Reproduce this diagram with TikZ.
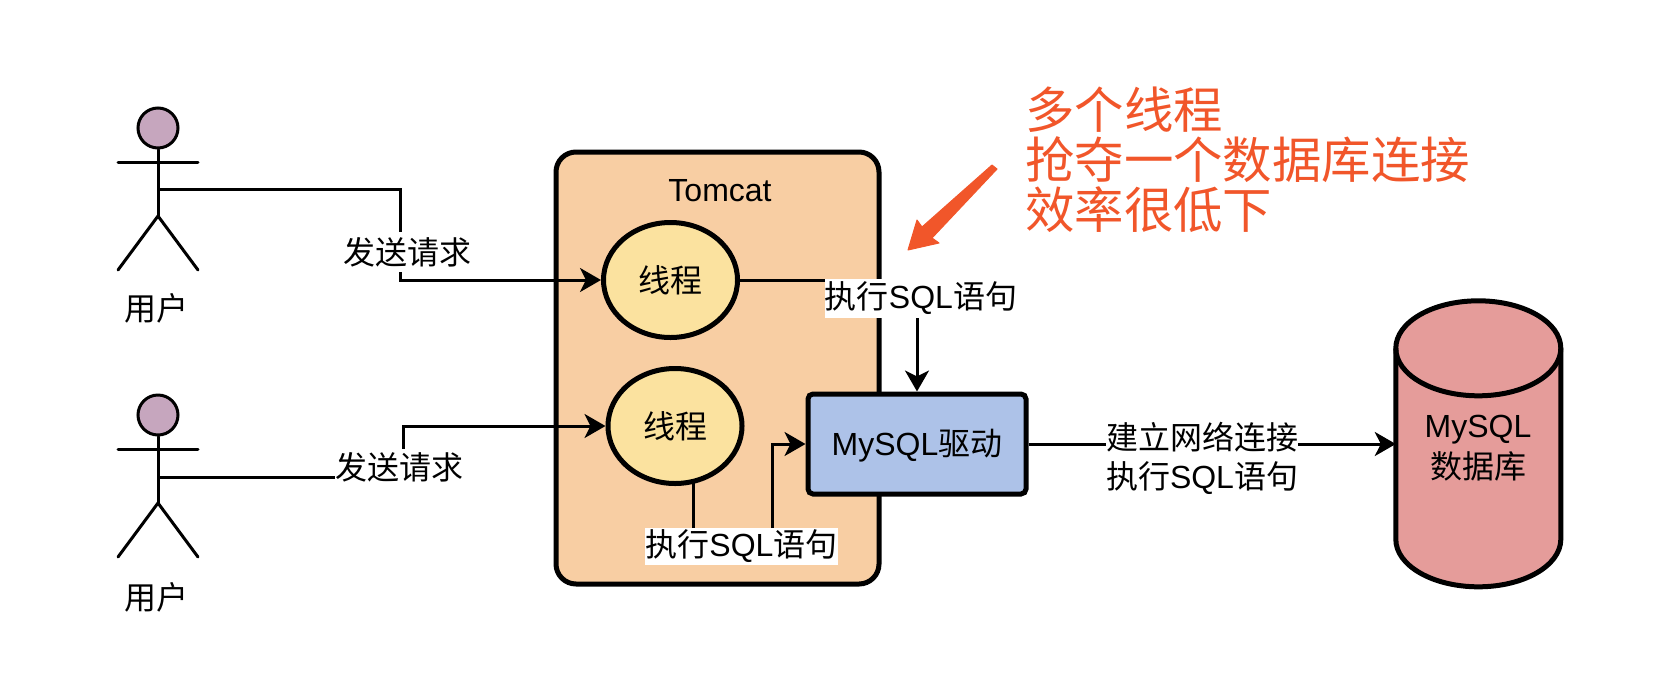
\documentclass[tikz,border=0pt]{standalone}
\usepackage{fontspec}
\setmainfont{Liberation Sans}
\newfontfamily\cjk{Noto Sans CJK SC}
\usetikzlibrary{arrows.meta,shapes.geometric}
\definecolor{headc}{HTML}{C6A6BE}
\definecolor{peach}{HTML}{F8CEA3}
\definecolor{threadc}{HTML}{FBE29F}
\definecolor{drvc}{HTML}{ADC2E8}
\definecolor{dbc}{HTML}{E59C9A}
\definecolor{redc}{HTML}{F1562A}
\tikzset{
  txt/.style={inner sep=0pt,align=center,font=\fontsize{32}{38}\selectfont},
  lab/.style={txt,fill=white,minimum height=37pt},
  box/.style={draw=black,line width=5pt},
  thread/.style={box,ellipse,fill=threadc,minimum width=134pt,minimum height=115pt,inner sep=0pt,txt},
  fig/.style={line width=3pt,line cap=round},
  conn/.style={line width=3pt},
  arr/.style={conn,-{Stealth[length=21pt,width=24pt,inset=6pt]}},
}
\begin{document}
\begin{tikzpicture}[x=1pt,y=-1pt]
\useasboundingbox (0,0) rectangle (1656,686);
% Tomcat container
\node[box,rounded corners=20pt,fill=peach,minimum width=323pt,minimum height=432pt,inner sep=0pt] (tomcat) at (717.5,368) {};
\node[txt] (tomcatl) at (720,191) {Tomcat};
% threads and driver
\node[thread] (t1) at (670.5,280) {\cjk 线程};
\node[thread] (t2) at (675,426) {\cjk 线程};
\node[box,rounded corners=5pt,fill=drvc,minimum width=218pt,minimum height=100pt,inner sep=0pt] (drv) at (917,444) {};
\node[txt] (drvt) at (917,446) {MySQL\cjk 驱动};
% database
\node[minimum width=165pt,minimum height=286pt,inner sep=0pt] (cyl) at (1478.5,444) {};
\draw[box,fill=dbc] (cyl.north west) ++(0,47.5) arc[start angle=180,end angle=0,x radius=82.5,y radius=-47.5]
  -- ++(0,191) arc[start angle=0,end angle=-180,x radius=82.5,y radius=-47.5] -- cycle;
\draw[box] (cyl.north west) ++(0,47.5) arc[start angle=180,end angle=360,x radius=82.5,y radius=-47.5];
\node[txt] (cylt) at (1478,448) {MySQL\\[3pt]{\cjk 数据库}};
% actors
\foreach \n/\y in {a/128,b/415}{
  \node[circle,draw=black,line width=3pt,fill=headc,minimum size=40pt,inner sep=0pt] (head\n) at (158,\y) {};
  \coordinate (hip\n) at (158,\y+88);
  \coordinate (armL\n) at (118,\y+34);
  \coordinate (armR\n) at (198,\y+34);
  \coordinate (footL\n) at (118,\y+142);
  \coordinate (footR\n) at (198,\y+142);
  \draw[fig] (head\n) -- (hip\n);
  \draw[fig] (armL\n) -- (armR\n);
  \draw[fig] (footL\n) -- (hip\n) -- (footR\n);
}
\node[txt] (ua) at (156,308) {\cjk 用户};
\node[txt] (ub) at (156,597) {\cjk 用户};
% connectors
\coordinate (froma) at (158,189);
\coordinate (benda) at (400,235);
\coordinate (fromb) at (158,477);
\coordinate (bendb) at (403,450);
\coordinate (t2out) at (693.5,483);
\coordinate (lowa) at (693.5,546);
\coordinate (lowb) at (772,546);
\draw[arr] (froma) -| (benda) |- (t1.west);
\draw[arr] (fromb) -| (bendb) |- (t2.west);
\draw[arr] (t1.east) -| (drv.north);
\draw[arr] (t2out) -- (lowa) -- (lowb) |- (drv.west);
\draw[arr] (drv.east) -- (cyl.west);
% labels
\node[txt,fill=white,minimum height=40pt] (la) at (407,252) {\cjk 发送请求};
\node[txt,fill=white,minimum height=36pt] (lb) at (399,467) {\cjk 发送请求};
\node[lab,minimum height=39pt] (lc) at (921,298) {\raisebox{-2pt}{\cjk 执行\normalfont SQL\cjk 语句}};
\node[lab] (ld) at (741.5,546) {\raisebox{-1pt}{\cjk 执行\normalfont SQL\cjk 语句}};
\node[txt,fill=white] (le) at (1202,458) {\cjk 建立网络连接\\[1pt]{\cjk 执行}SQL{\cjk 语句}};
% annotation
\fill[redc,draw=redc,line width=1pt,line join=round] (997,169) -- (932,238) -- (939,243) -- (908,250) -- (917,220) -- (922,227) -- (992,165) -- cycle;
\node[anchor=west,inner sep=0pt,align=left,text=redc,font=\fontsize{49.4}{50}\selectfont] (note) at (1025,160) {\cjk 多个线程\\\cjk 抢夺一个数据库连接\\\cjk 效率很低下};
\end{tikzpicture}
\end{document}
